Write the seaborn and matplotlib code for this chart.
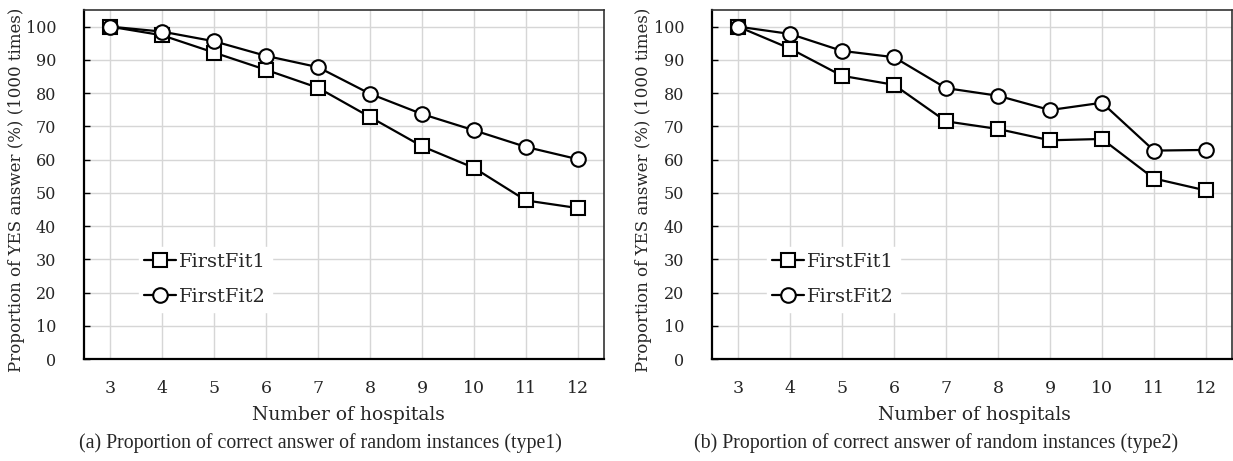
import matplotlib
matplotlib.use("Agg")
import matplotlib.pyplot as plt
import seaborn as sns
import pandas as pd

hospitals = [3, 4, 5, 6, 7, 8, 9, 10, 11, 12]
type1_ff1 = [100, 97.4, 92.2, 87.0, 81.6, 72.8, 64.0, 57.5, 47.7, 45.4]
type1_ff2 = [100, 98.5, 95.6, 91.2, 87.8, 79.8, 73.7, 68.8, 63.8, 60.1]
type2_ff1 = [100, 93.4, 85.2, 82.5, 71.5, 69.2, 65.8, 66.2, 54.3, 50.7]
type2_ff2 = [100, 97.8, 92.7, 90.8, 81.5, 79.2, 74.9, 77.1, 62.7, 62.9]
series_names = ["FirstFit1", "FirstFit2"]
y_ticks = [0, 10, 20, 30, 40, 50, 60, 70, 80, 90, 100]
captions = ["(a) Proportion of correct answer of random instances (type1)",
            "(b) Proportion of correct answer of random instances (type2)"]
xlabel = "Number of hospitals"
ylabel = "Proportion of YES answer (%) (1000 times)"

sns.set_theme(style="white")
plt.rcParams['font.family'] = ['DejaVu Serif']

W, H = 1233, 461
fig = plt.figure(figsize=(W / 100, H / 100), dpi=100)

def make_df(a, b):
    return pd.DataFrame({
        "x": hospitals * 2,
        "y": a + b,
        "series": [series_names[0]] * len(a) + [series_names[1]] * len(b),
    })

panels = [(make_df(type1_ff1, type1_ff2), 84, 348, 320, 17),
          (make_df(type2_ff1, type2_ff2), 712, 974, 936, 644)]

for i, (df, left_px, xl_px, cap_px, ylab_px) in enumerate(panels):
    ax = fig.add_axes([left_px / W, (H - 359) / H, 520 / W, 349 / H])
    sns.lineplot(data=df, x="x", y="y", hue="series", style="series",
                 markers=["s", "o"], dashes=False,
                 palette=["black", "black"], ax=ax, linewidth=1.6,
                 markersize=10.5, markerfacecolor="white",
                 markeredgecolor="black", markeredgewidth=1.5,
                 legend=True, zorder=3)
    ax.set_xlim(2.5, 12.5)
    ax.set_ylim(0, 105)
    ax.set_yticks(y_ticks)
    ax.set_xticks(hospitals)
    ax.set_xticks([h + 0.5 for h in hospitals[:-1]], minor=True)
    ax.tick_params(axis="x", which="major", length=0, pad=15, labelsize=12.5)
    ax.tick_params(axis="x", which="minor", direction="in", length=4, width=1, color="black")
    ax.tick_params(axis="y", which="major", direction="in", length=4, width=1,
                   color="black", pad=20, labelsize=11.5, left=True)
    ax.grid(True, which="major", color="#d6d6d6", linewidth=1)
    ax.set_axisbelow(True)
    for s in ["top", "right"]:
        ax.spines[s].set_color("#333333")
        ax.spines[s].set_linewidth(1.2)
    for s in ["left", "bottom"]:
        ax.spines[s].set_color("black")
        ax.spines[s].set_linewidth(1.6)
    ax.set_xlabel("")
    ax.set_ylabel("")
    handles, labels = ax.get_legend_handles_labels()
    leg = ax.legend(handles, labels, loc="upper left",
                    bbox_to_anchor=(0.105, 0.32), frameon=True, fontsize=14,
                    handlelength=1.6, handletextpad=0.2, labelspacing=0.85,
                    borderpad=0.3, borderaxespad=0)
    leg.get_frame().set_facecolor("white")
    leg.get_frame().set_edgecolor("white")
    leg.get_frame().set_alpha(1)
    fig.text(xl_px / W, 1 - 415 / H, xlabel, ha="center", va="center", fontsize=13.5)
    fig.text(cap_px / W, 1 - 443 / H, captions[i], ha="center", va="center",
             fontsize=14.3, family=["Liberation Serif"])
    fig.text(ylab_px / W, 1 - 190 / H, ylabel, rotation=90, ha="center",
             va="center", fontsize=12)

fig.savefig("out.png", dpi=100)
